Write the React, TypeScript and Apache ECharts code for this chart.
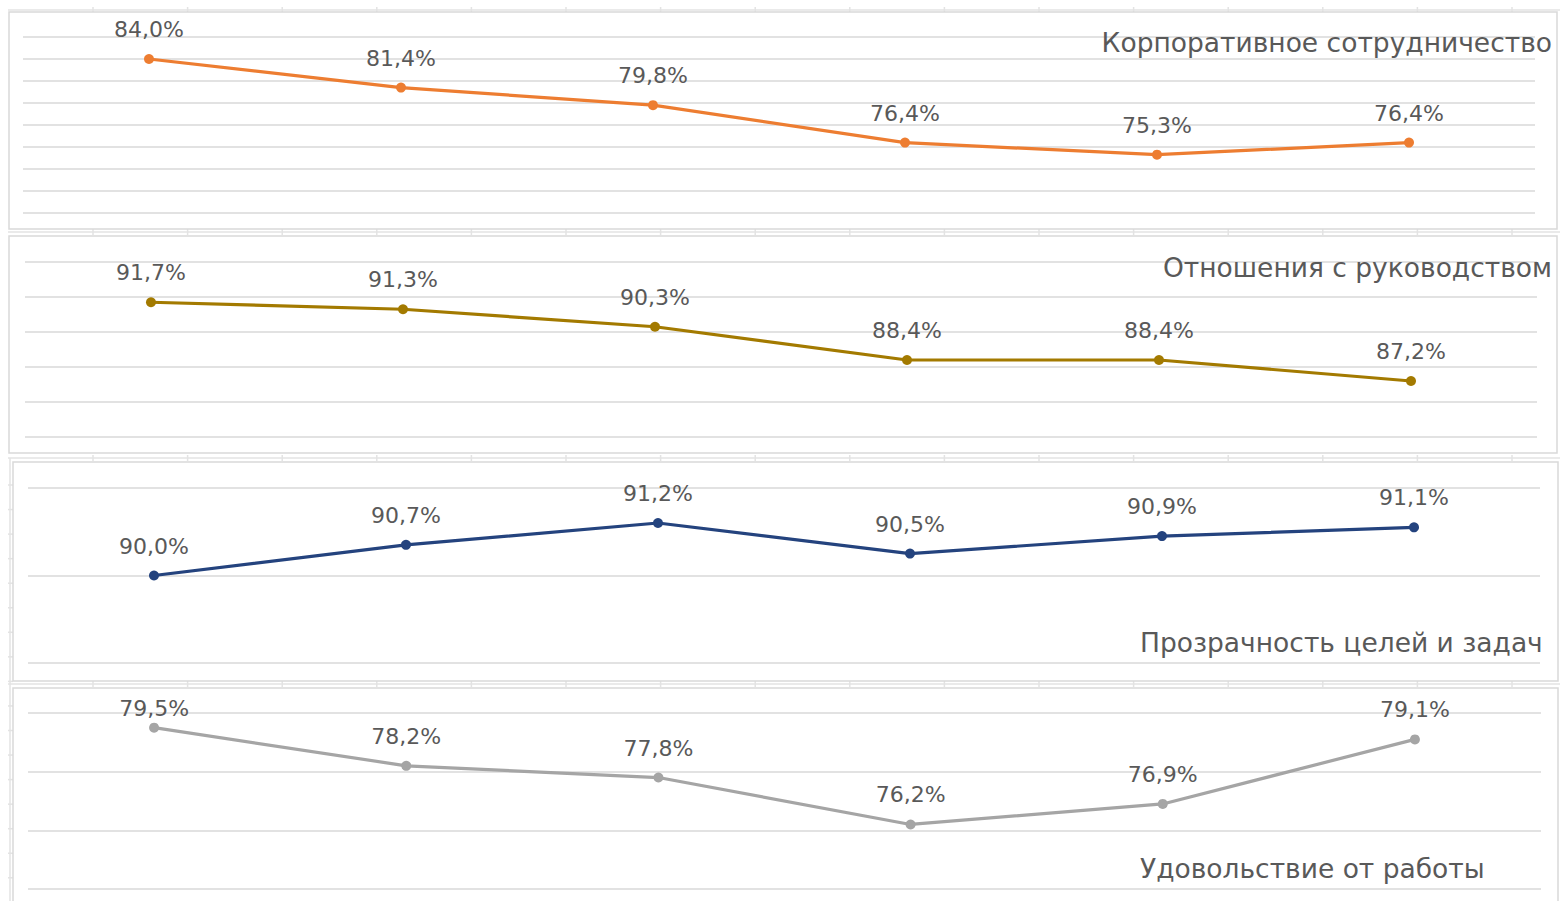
import React, { useEffect, useRef } from "react";
import * as echarts from "echarts";

// Survey waves (six measurements, unlabeled on the axis)
const waves = ["1", "2", "3", "4", "5", "6"];

// Index values, %
const cooperation = [84.0, 81.4, 79.8, 76.4, 75.3, 76.4];
const management = [91.7, 91.3, 90.3, 88.4, 88.4, 87.2];
const transparency = [90.0, 90.7, 91.2, 90.5, 90.9, 91.1];
const satisfaction = [79.5, 78.2, 77.8, 76.2, 76.9, 79.1];

const titles = [
  "Корпоративное сотрудничество",
  "Отношения с руководством",
  "Прозрачность целей и задач",
  "Удовольствие от работы",
];

// Value-axis ranges per panel: [min, max, step]
const ranges = [
  [70, 86, 2],
  [84, 94, 2],
  [88, 92, 2],
  [74, 80, 2],
];

const colors = ["#ED7D31", "#A37A00", "#24437E", "#A5A5A5"];

const FONT = "'DejaVu Sans', 'Open Sans', sans-serif";
const GRID_COLOR = "#D9D9D9";
const TEXT_COLOR = "#595959";

// Plot-area boxes for the four stacked panels (px in a 1560x901 canvas)
const grids = [
  { left: 23, right: 25, top: 37, bottom: 688 },
  { left: 25, right: 23, top: 262, bottom: 464 },
  { left: 28, right: 20, top: 488, bottom: 238 },
  { left: 28, right: 19, top: 713, bottom: 12 },
];

const fmt = (v: number) => v.toFixed(1).replace(".", ",") + "%";

export default function App() {
  const ref = useRef<HTMLDivElement>(null);

  useEffect(() => {
    if (!ref.current) return;
    const chart = echarts.init(ref.current, undefined, { renderer: "svg" });
    const seriesData = [cooperation, management, transparency, satisfaction];

    const graphic: any[] = [];

    // spreadsheet cell lines visible between the chart frames
    const rowGaps = [10, 232, 458, 684];
    rowGaps.forEach((y) => {
      graphic.push({
        type: "line",
        z: 0,
        shape: { x1: 8, y1: y, x2: 1560, y2: y },
        style: { stroke: "#E3E3E3", lineWidth: 1.5 },
      });
      for (let k = 0; k < 16; k++) {
        const x = 93 + k * 94.6;
        graphic.push({
          type: "line",
          z: 0,
          shape: { x1: x, y1: y - 3, x2: x, y2: y + 3 },
          style: { stroke: "#E3E3E3", lineWidth: 1.5 },
        });
      }
    });
    graphic.push({
      type: "line",
      z: 0,
      shape: { x1: 10, y1: 458, x2: 10, y2: 901 },
      style: { stroke: "#E3E3E3", lineWidth: 1.5 },
    });
    for (let k = 0; k < 17; k++) {
      const y = 485 + k * 24.55;
      graphic.push({
        type: "line",
        z: 0,
        shape: { x1: 8, y1: y, x2: 13, y2: y },
        style: { stroke: "#E3E3E3", lineWidth: 1.5 },
      });
    }

    // chart frames
    const frames = [
      { x: 9, y: 12, width: 1548, height: 217 },
      { x: 9, y: 236, width: 1548, height: 217 },
      { x: 13, y: 462, width: 1545, height: 219 },
      { x: 13, y: 688, width: 1545, height: 240 },
    ];
    frames.forEach((f) => {
      graphic.push({
        type: "rect",
        z: 1,
        shape: f,
        style: { fill: "#FFFFFF", stroke: GRID_COLOR, lineWidth: 1.5 },
      });
    });

    // panel titles
    const titlePos = [
      { x: 1552, y: 42, align: "right" },
      { x: 1552, y: 267, align: "right" },
      { x: 1140, y: 642, align: "left" },
      { x: 1140, y: 868, align: "left" },
    ];
    titles.forEach((t, i) => {
      graphic.push({
        type: "text",
        z: 100,
        x: titlePos[i].x,
        y: titlePos[i].y,
        style: {
          text: t,
          fontSize: 26.5,
          fontFamily: FONT,
          fill: TEXT_COLOR,
          align: titlePos[i].align,
          verticalAlign: "middle",
        },
      });
    });

    const option: any = {
      animation: false,
      backgroundColor: "#FFFFFF",
      graphic: { elements: graphic },
      grid: grids.map((g) => ({ ...g, containLabel: false, z: 2 })),
      xAxis: grids.map((_, i) => ({
        type: "category",
        gridIndex: i,
        data: waves,
        boundaryGap: true,
        axisLine: { show: false },
        axisTick: { show: false },
        axisLabel: { show: false },
        splitLine: { show: false },
      })),
      yAxis: ranges.map(([min, max, step], i) => ({
        type: "value",
        gridIndex: i,
        min,
        max,
        interval: step,
        axisLine: { show: false },
        axisTick: { show: false },
        axisLabel: { show: false },
        splitLine: { show: true, lineStyle: { color: GRID_COLOR, width: 1.5 } },
        z: 2,
      })),
      series: seriesData.map((vals, i) => ({
        type: "line",
        xAxisIndex: i,
        yAxisIndex: i,
        z: 5,
        data: vals.map((v, j) => {
          // the first point of the last panel sits close to its frame top
          const tight = i === 3 && j === 0;
          return tight ? { value: v, label: { distance: 3 } } : v;
        }),
        symbol: "circle",
        symbolSize: 10,
        color: colors[i],
        lineStyle: { color: colors[i], width: 3.2 },
        itemStyle: { color: colors[i] },
        label: {
          show: true,
          position: "top",
          distance: 13.5,
          fontSize: 22,
          fontFamily: FONT,
          color: TEXT_COLOR,
          formatter: (p: any) => fmt(p.value),
        },
      })),
    };

    chart.setOption(option);
    return () => chart.dispose();
  }, []);

  return (
    <div
      ref={ref}
      style={{ position: "absolute", left: 0, top: 0, width: 1560, height: 901 }}
    />
  );
}
